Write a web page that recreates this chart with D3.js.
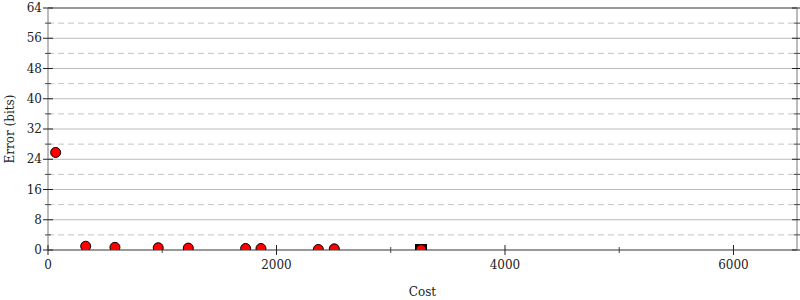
<!DOCTYPE html>
<html>
<head>
<meta charset="utf-8">
<script src="https://cdn.jsdelivr.net/npm/d3@7"></script>
<style>
  body { margin: 0; background: #fff; }
  text { font-family: "DejaVu Serif", serif; font-size: 12px; fill: #222; }
</style>
</head>
<body>
<div id="chart"></div>
<script>
// points
const cost = [67, 330, 586, 965, 1228, 1730, 1864, 2366, 2506, 3265];
const error = [25.8, 1.0, 0.7, 0.6, 0.5, 0.4, 0.4, 0.15, 0.3, 0.1];
// the highlighted (square) point
const bestCost = [3265];
const bestError = [0];

const xMajor = [0, 2000, 4000, 6000];
const xMinor = [1000, 3000, 5000];
const yMajor = [0, 8, 16, 24, 32, 40, 48, 56, 64];
const yMinor = [4, 12, 20, 28, 36, 44, 52, 60];

const width = 800, height = 300;
const margin = { top: 8, right: 3, bottom: 50, left: 48 };

const svg = d3.select('#chart')
  .append('svg')
  .attr('width', width)
  .attr('height', height);

const x = d3.scaleLinear()
  .domain([0, 6556])
  .range([margin.left, width - margin.right]);

const y = d3.scaleLinear()
  .domain([0, 64])
  .range([height - margin.bottom, margin.top]);

const x0 = x.range()[0], x1 = x.range()[1];
const y0 = y.range()[0], y1 = y.range()[1];

// grid
svg.append('g').selectAll('line')
  .data(yMajor.slice(1, -1))
  .join('line')
    .attr('x1', x0).attr('x2', x1)
    .attr('y1', d => y(d)).attr('y2', d => y(d))
    .attr('stroke', '#bbb');

svg.append('g').selectAll('line')
  .data(yMinor)
  .join('line')
    .attr('x1', x0).attr('x2', x1)
    .attr('y1', d => y(d)).attr('y2', d => y(d))
    .attr('stroke', '#c4c4c4')
    .attr('stroke-dasharray', '6,4');

// frame
svg.append('line')
  .attr('x1', x0).attr('x2', x1).attr('y1', y1).attr('y2', y1)
  .attr('stroke', '#999').attr('stroke-width', 2);
svg.append('line')
  .attr('x1', x0).attr('x2', x1).attr('y1', y0).attr('y2', y0)
  .attr('stroke', '#999').attr('stroke-width', 2);
svg.append('line')
  .attr('x1', x0).attr('x2', x0).attr('y1', y1).attr('y2', y0)
  .attr('stroke', '#bbb').attr('stroke-width', 2);
svg.append('line')
  .attr('x1', x1).attr('x2', x1).attr('y1', y1).attr('y2', y0)
  .attr('stroke', '#bbb').attr('stroke-width', 2);

// y ticks, both sides
[x0, x1].forEach(px => {
  svg.append('g').selectAll('line')
    .data(yMajor)
    .join('line')
      .attr('x1', px - 5).attr('x2', px + 5)
      .attr('y1', d => y(d)).attr('y2', d => y(d))
      .attr('stroke', '#222');
  svg.append('g').selectAll('line')
    .data(yMinor)
    .join('line')
      .attr('x1', px - 3).attr('x2', px + 3)
      .attr('y1', d => y(d)).attr('y2', d => y(d))
      .attr('stroke', '#444');
});

svg.append('g').selectAll('text')
  .data(yMajor)
  .join('text')
    .attr('x', x0 - 6)
    .attr('y', d => y(d))
    .attr('dy', '0.35em')
    .attr('text-anchor', 'end')
    .text(d => d);

// x ticks
svg.append('g').selectAll('line')
  .data(xMajor)
  .join('line')
    .attr('x1', d => x(d)).attr('x2', d => x(d))
    .attr('y1', y0 - 5).attr('y2', y0 + 5)
    .attr('stroke', '#222');
svg.append('g').selectAll('line')
  .data(xMinor)
  .join('line')
    .attr('x1', d => x(d)).attr('x2', d => x(d))
    .attr('y1', y0 - 3).attr('y2', y0 + 3)
    .attr('stroke', '#444');

svg.append('g').selectAll('text')
  .data(xMajor)
  .join('text')
    .attr('x', d => x(d))
    .attr('y', y0 + 19)
    .attr('text-anchor', 'middle')
    .text(d => d);

// axis titles
svg.append('text')
  .attr('x', (x0 + x1) / 2)
  .attr('y', 296)
  .attr('text-anchor', 'middle')
  .text('Cost');

svg.append('text')
  .attr('transform', `translate(14,${(y0 + y1) / 2}) rotate(-90)`)
  .attr('text-anchor', 'middle')
  .text('Error (bits)');

// marks, clipped to plot area
svg.append('clipPath').attr('id', 'plot')
  .append('rect')
    .attr('x', x0).attr('y', y1)
    .attr('width', x1 - x0).attr('height', y0 - y1);

const marks = svg.append('g').attr('clip-path', 'url(#plot)');

marks.selectAll('rect.best')
  .data(bestCost)
  .join('rect')
    .attr('class', 'best')
    .attr('x', (d, i) => x(d) - 6)
    .attr('y', (d, i) => y(bestError[i]) - 6)
    .attr('width', 12).attr('height', 12)
    .attr('fill', '#000');

marks.selectAll('circle')
  .data(cost)
  .join('circle')
    .attr('cx', d => x(d))
    .attr('cy', (d, i) => y(error[i]))
    .attr('r', 5)
    .attr('fill', 'red')
    .attr('stroke', '#000')
    .attr('stroke-width', 1);
</script>
</body>
</html>
